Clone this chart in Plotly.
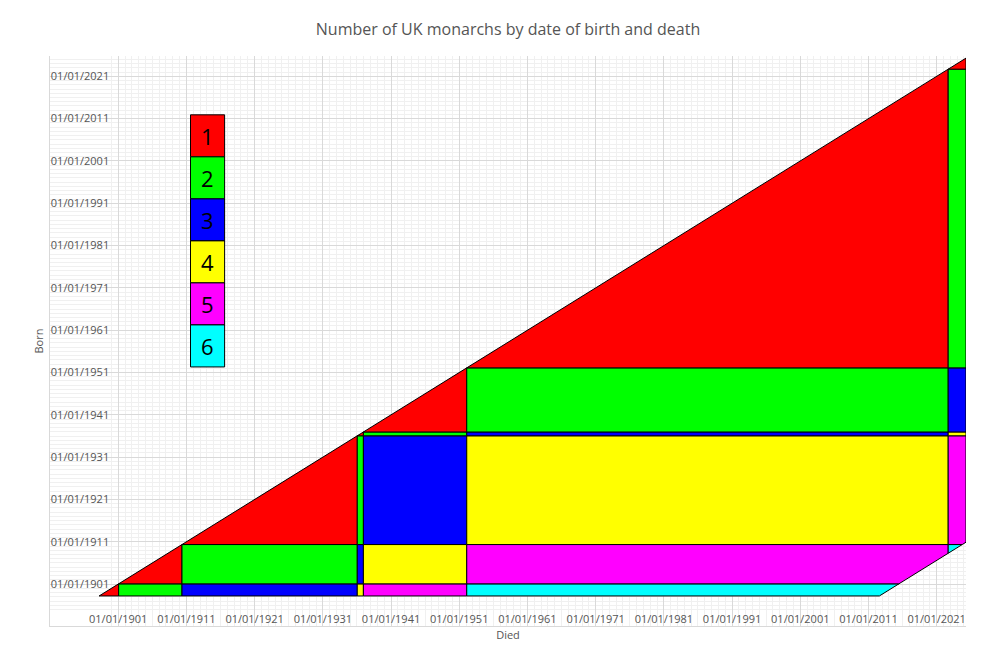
import plotly.graph_objects as go

# Reign boundaries (decimal years) and domain limits
reign_bounds = [1898.2, 1901.06, 1910.35, 1936.05, 1936.95, 1952.1, 2022.69, 2025.3]
max_lifespan = 114.4
colors = ["#ff0000", "#00ff00", "#0000ff", "#ffff00", "#ff00ff", "#00ffff"]
legend_labels = ["1", "2", "3", "4", "5", "6"]
tick_years = [1901, 1911, 1921, 1931, 1941, 1951, 1961, 1971, 1981, 1991, 2001, 2011, 2021]
tick_text = ["01/01/%d" % y for y in tick_years]


def clip(poly, a, b, c):
    # keep a*x + b*y <= c
    out = []
    n = len(poly)
    for k in range(n):
        p, q = poly[k], poly[(k + 1) % n]
        fp = a * p[0] + b * p[1] - c
        fq = a * q[0] + b * q[1] - c
        if fp <= 0:
            out.append(p)
        if fp * fq < 0:
            t = fp / (fp - fq)
            out.append((p[0] + t * (q[0] - p[0]), p[1] + t * (q[1] - p[1])))
    return out


fig = go.Figure()
nb = len(reign_bounds) - 1
for i in range(nb):
    for j in range(i, nb):
        cnt = j - i + 1
        if cnt > len(colors):
            continue
        x0, x1 = reign_bounds[j], reign_bounds[j + 1]
        y0, y1 = reign_bounds[i], reign_bounds[i + 1]
        poly = [(x0, y0), (x1, y0), (x1, y1), (x0, y1)]
        poly = clip(poly, -1, 1, 0)              # born <= died
        poly = clip(poly, 1, -1, max_lifespan)   # died - born <= L
        if len(poly) < 3:
            continue
        xs = [p[0] for p in poly] + [poly[0][0]]
        ys = [p[1] for p in poly] + [poly[0][1]]
        fig.add_trace(go.Scatter(x=xs, y=ys, fill="toself", fillcolor=colors[cnt - 1],
                                 mode="lines", line=dict(color="black", width=1),
                                 hoverinfo="skip", showlegend=False))

# legend boxes
lx0, lx1 = 1911.6, 1916.6
top = 2011.9
h = 9.93
for k, lab in enumerate(legend_labels):
    yt = top - k * h
    fig.add_shape(type="rect", x0=lx0, x1=lx1, y0=yt - h, y1=yt,
                  fillcolor=colors[k], line=dict(color="black", width=1))
    fig.add_annotation(x=(lx0 + lx1) / 2, y=yt - h / 2, text=lab, showarrow=False,
                       font=dict(size=22, color="black"))

axis_common = dict(
    tickmode="array", tickvals=tick_years, ticktext=tick_text,
    showgrid=True, gridcolor="#d9d9d9", zeroline=False, automargin=False,
    ticklabelposition="inside", tickfont=dict(size=11, color="#555"),
    minor=dict(tick0=1891, dtick=1, showgrid=True, gridcolor="#f0f0f0"),
    showline=True, linecolor="#d9d9d9",
)
fig.update_xaxes(range=[1891, 2025.3], title=dict(text="Died", font=dict(size=11, color="#555"), standoff=6),
                 **axis_common)
fig.update_yaxes(range=[1891.1, 2025.8], title=dict(text="Born", font=dict(size=11, color="#555"), standoff=4),
                 **axis_common)
fig.update_layout(
    width=1000, height=651,
    margin=dict(l=42, r=42, t=48, b=33),
    plot_bgcolor="white", paper_bgcolor="white",
    title=dict(text="Number of UK monarchs by date of birth and death", x=0.5, y=0.975,
               font=dict(size=16, color="#555", family="Open Sans")),
    font=dict(family="Open Sans"),
)
fig.write_html("out.html")
